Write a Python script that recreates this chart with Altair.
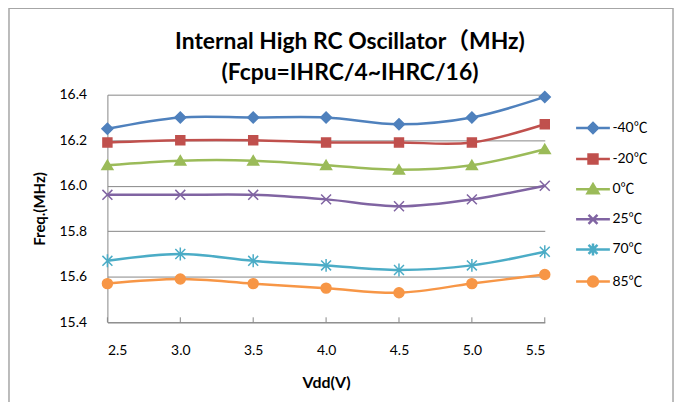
import altair as alt
import pandas as pd

# ---- data ----
vdd = [2.5, 3.0, 3.5, 4.0, 4.5, 5.0, 5.5]
temps = ["-40℃", "-20℃", "0℃", "25℃", "70℃", "85℃"]
f_m40 = [16.25, 16.30, 16.30, 16.30, 16.27, 16.30, 16.39]
f_m20 = [16.19, 16.20, 16.20, 16.19, 16.19, 16.19, 16.27]
f_0 = [16.09, 16.11, 16.11, 16.09, 16.07, 16.09, 16.16]
f_25 = [15.96, 15.96, 15.96, 15.94, 15.91, 15.94, 16.00]
f_70 = [15.67, 15.70, 15.67, 15.65, 15.63, 15.65, 15.71]
f_85 = [15.57, 15.59, 15.57, 15.55, 15.53, 15.57, 15.61]
y_ticks = [15.4, 15.6, 15.8, 16.0, 16.2, 16.4]

series = [f_m40, f_m20, f_0, f_25, f_70, f_85]

# ---- styles ----
colors = ["#4F81BD", "#C0504D", "#9BBB59", "#8064A2", "#4BACC6", "#F79646"]
marker_paths = [
    "M0,-1.1L1.1,0L0,1.1L-1.1,0Z",
    "M-0.9,-0.9L0.9,-0.9L0.9,0.9L-0.9,0.9Z",
    "M0,-1L1.1,0.85L-1.1,0.85Z",
    "M-1,-1L1,1M-1,1L1,-1",
    "M-1,-1L1,1M-1,1L1,-1M0,-1.3L0,1.3",
    "M1,0A1,1 0 1,1 -1,0A1,1 0 1,1 1,0Z",
]
line_seg = "M-1.7,0L1.7,0"
legend_paths = [
    line_seg + "M0,-0.5L0.5,0L0,0.5L-0.5,0Z",
    line_seg + "M-0.45,-0.45L0.45,-0.45L0.45,0.45L-0.45,0.45Z",
    line_seg + "M0,-0.5L0.55,0.42L-0.55,0.42Z",
    line_seg + "M-0.45,-0.45L0.45,0.45M-0.45,0.45L0.45,-0.45",
    line_seg + "M-0.45,-0.45L0.45,0.45M-0.45,0.45L0.45,-0.45M0,-0.6L0,0.6",
    line_seg + "M0.5,0A0.5,0.5 0 1,1 -0.5,0A0.5,0.5 0 1,1 0.5,0Z",
]

rows = []
for t, vals in zip(temps, series):
    for v, f in zip(vdd, vals):
        rows.append({"vdd": v, "freq": f, "series": t})
df = pd.DataFrame(rows)

FONT = "Lato, Noto Sans CJK SC"
GRID = "#868686"

xscale = alt.Scale(domain=[2.5, 5.5], nice=False, zero=False)
yscale = alt.Scale(domain=[15.4, 16.4], nice=False, zero=False)

x_enc = alt.X(
    "vdd:Q", scale=xscale,
    axis=alt.Axis(values=vdd, format=".1f", title="Vdd(V)", grid=False, ticks=False,
                  domainColor=GRID, labelFont=FONT, labelFontSize=14, labelColor="#000",
                  labelPadding=21, titleFont=FONT, titleFontSize=16, titleFontWeight="bold",
                  titleColor="#000", titlePadding=18),
)
y_enc = alt.Y(
    "freq:Q", scale=yscale,
    axis=alt.Axis(values=y_ticks, format=".1f", title="Freq.(MHz)", grid=True, gridColor=GRID,
                  gridWidth=1, ticks=False, domainColor=GRID, labelFont=FONT, labelFontSize=14,
                  labelColor="#000", labelPadding=21, titleFont=FONT, titleFontSize=15,
                  titleFontWeight="bold", titleColor="#000", titlePadding=12),
)

cscale = alt.Scale(domain=temps, range=colors)

base = alt.Chart(df)

lines = base.mark_line(interpolate="catmull-rom", strokeWidth=2.5).encode(
    x=x_enc, y=y_enc,
    color=alt.Color("series:N", scale=cscale, legend=None),
)

points = base.mark_point(filled=True, size=100, strokeWidth=1.5, opacity=1).encode(
    x=x_enc, y=y_enc,
    color=alt.Color("series:N", scale=cscale, legend=None),
    stroke=alt.Stroke("series:N", scale=cscale, legend=None),
    shape=alt.Shape("series:N", scale=alt.Scale(domain=temps, range=marker_paths), legend=None),
)

leg = alt.Legend(orient="none", legendX=477, legendY=22, title=None, symbolSize=400,
                 symbolStrokeWidth=2.5, rowPadding=9.3, labelOffset=8, labelFontSize=14,
                 labelFont=FONT, labelColor="#000", symbolOpacity=1)

legend_layer = base.mark_point(filled=True, size=400, strokeWidth=2.5, opacity=0).encode(
    x=x_enc, y=y_enc,
    color=alt.Color("series:N", scale=cscale, legend=leg),
    stroke=alt.Stroke("series:N", scale=cscale, legend=leg),
    shape=alt.Shape("series:N", scale=alt.Scale(domain=temps, range=legend_paths), legend=leg),
)

ticks = alt.Chart(pd.DataFrame({"vdd": vdd})).mark_rule(color=GRID, strokeWidth=1).encode(
    x=alt.X("vdd:Q", scale=xscale), y=alt.value(229), y2=alt.value(224)
)

frame = alt.Chart(pd.DataFrame({"a": [0]})).mark_rect(
    filled=False, stroke="#A6A6A6", strokeWidth=1.5
).encode(x=alt.value(-99), x2=alt.value(569), y=alt.value(-87), y2=alt.value(340))

chart = alt.layer(frame, ticks, lines, points, legend_layer).resolve_scale(
    color="independent", stroke="independent", shape="independent"
).properties(
    width=440, height=229,
    autosize=alt.AutoSizeParams(type="none"),
    padding={"left": 100, "top": 86, "right": 131, "bottom": 79},
    title=alt.TitleParams(
        text=["Internal High RC Oscillator（MHz)", "(Fcpu=IHRC/4~IHRC/16)"],
        font=FONT, fontSize=23, fontWeight="bold", color="#000",
        anchor="middle", dx=24, dy=78, lineHeight=31, offset=0,
    ),
).configure_view(stroke=None)

chart.save("out.html", embed_options={"renderer": "svg", "actions": False})
